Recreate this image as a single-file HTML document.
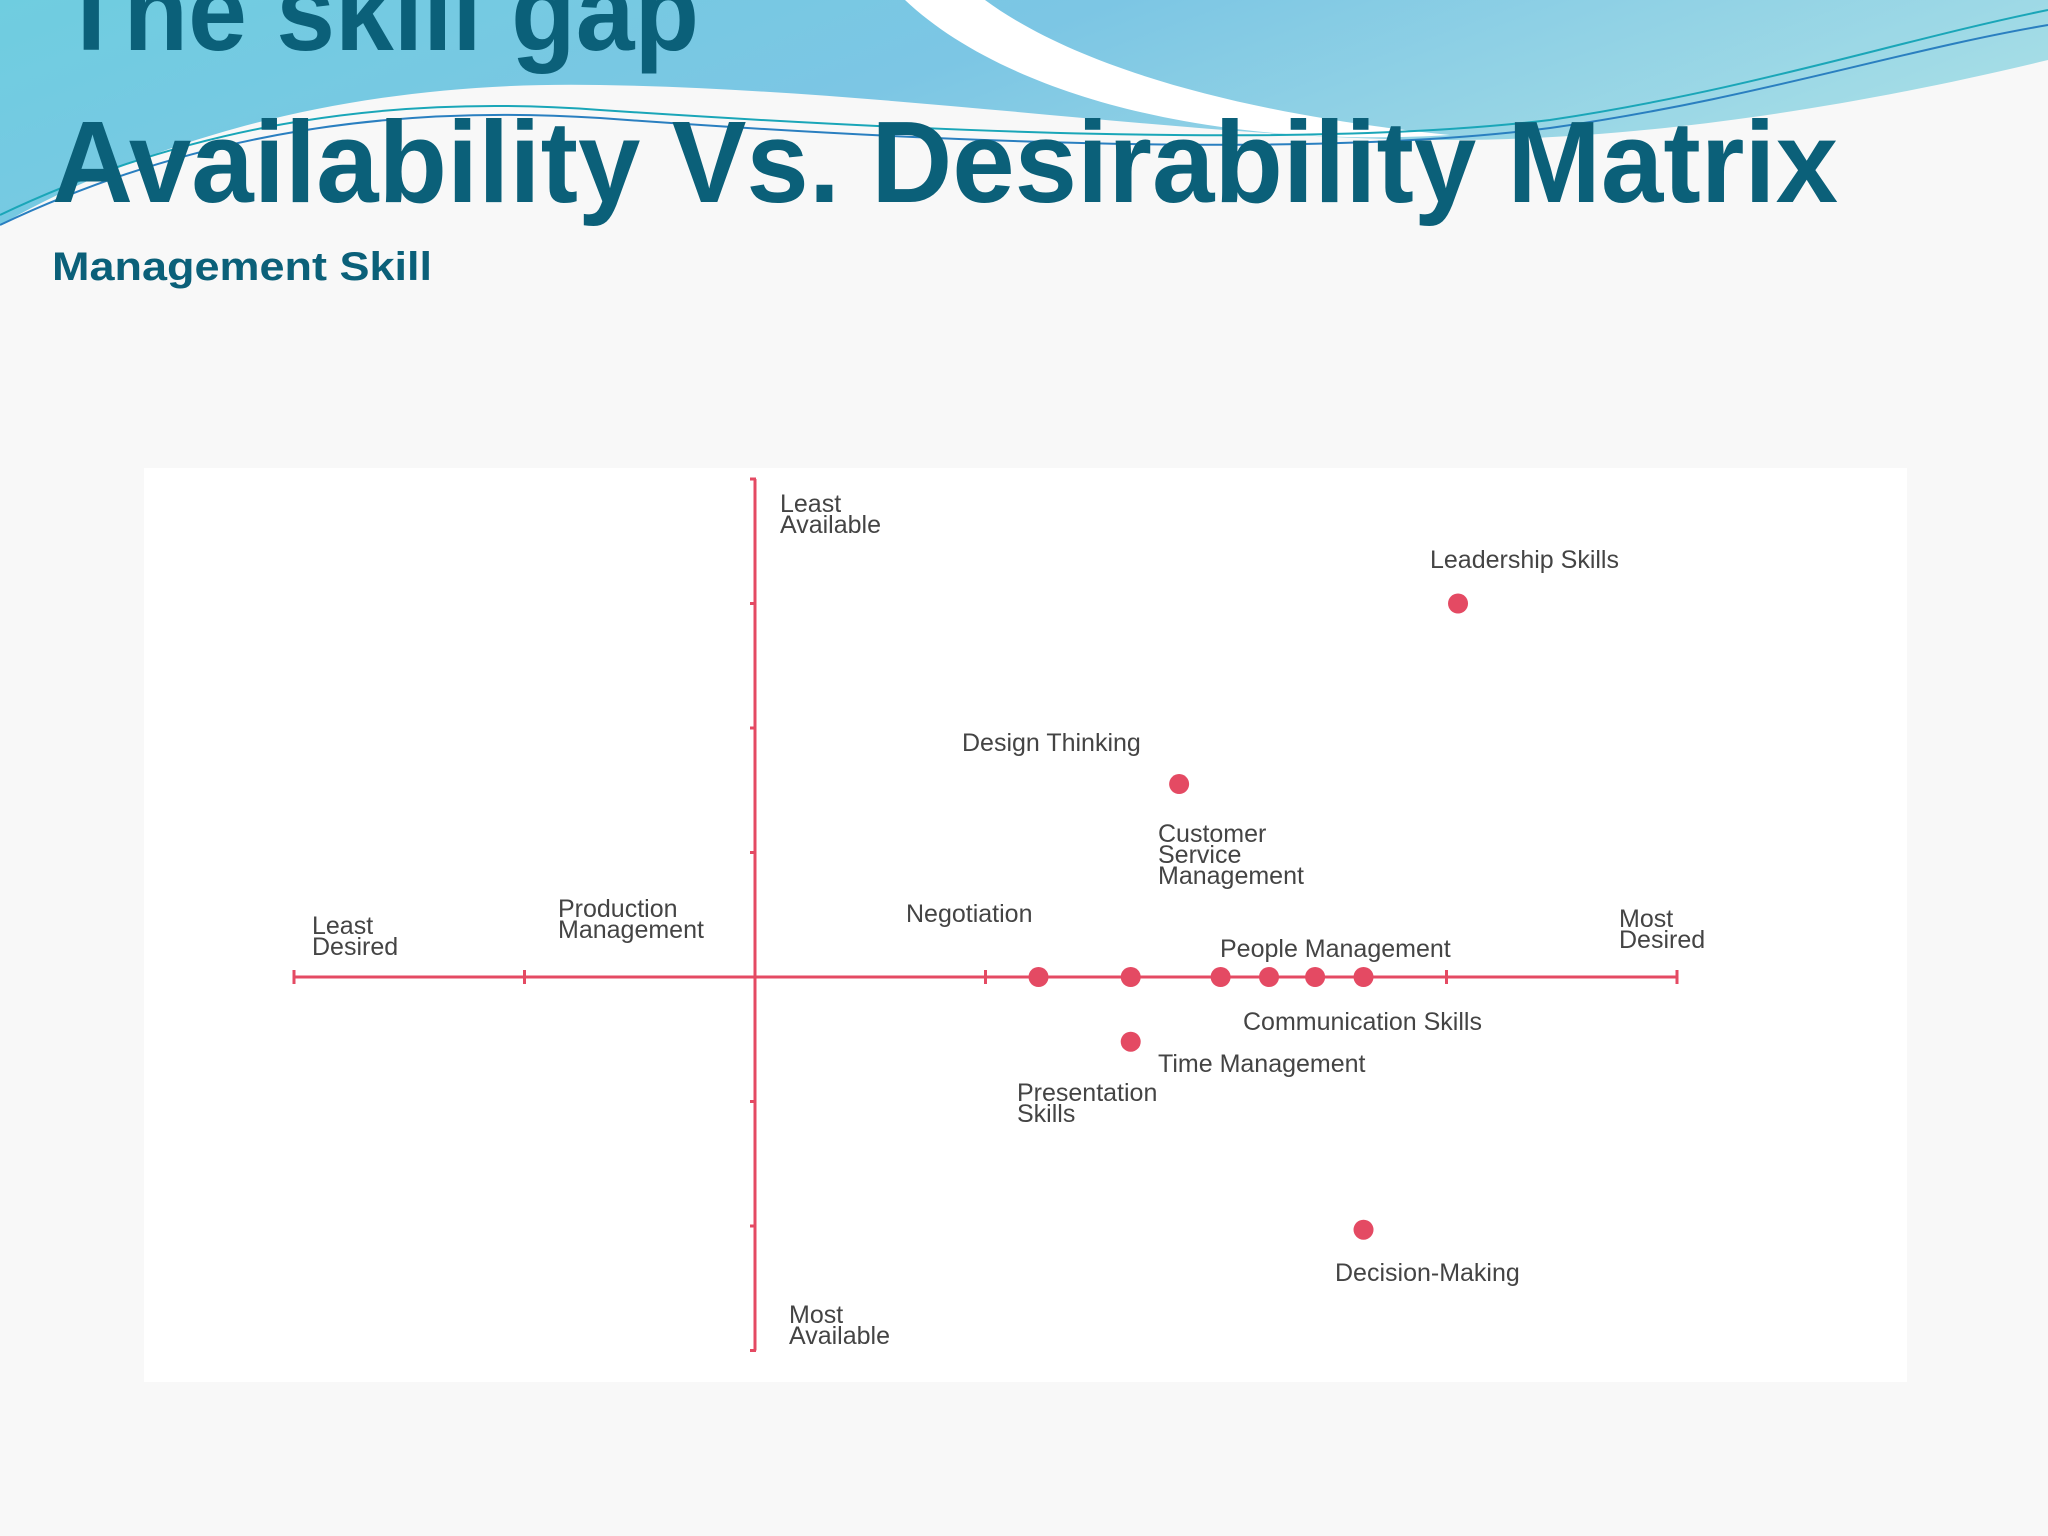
<!DOCTYPE html>
<html><head><meta charset="utf-8"><style>
html,body{margin:0;padding:0;}
body{width:2048px;height:1536px;overflow:hidden;background:#f8f8f8;font-family:"Liberation Sans",sans-serif;}
svg{display:block;}
</style></head><body>
<svg width="2048" height="1536" viewBox="0 0 2048 1536">
<defs>
<linearGradient id="bg" x1="0" y1="0" x2="1" y2="0.3">
<stop offset="0" stop-color="#6fcde0"/><stop offset="0.5" stop-color="#7cc6e4"/><stop offset="1" stop-color="#a5dde6"/>
</linearGradient>
</defs>
<rect x="0" y="0" width="2048" height="1536" fill="#f8f8f8"/>
<path d="M0,0 H2048 V60 C1800,120 1600,140 1450,140 C1200,140 900,90 600,85 C350,80 150,140 0,225 Z" fill="url(#bg)"/>
<path d="M905,0 C1000,90 1200,150 1450,135 C1250,115 1080,70 985,0 Z" fill="#ffffff"/>
<path d="M0,215 C200,120 400,95 600,110 C900,130 1300,150 1550,120 C1750,90 1900,40 2048,10" fill="none" stroke="#1aa6b8" stroke-width="2"/>
<path d="M0,225 C200,130 400,105 600,118 C900,140 1300,160 1550,128 C1750,100 1900,50 2048,25" fill="none" stroke="#2a7fc0" stroke-width="2"/>
<text x="59" y="50" font-family="Liberation Sans, sans-serif" font-weight="bold" font-size="112" fill="#0b6079" textLength="640" lengthAdjust="spacingAndGlyphs">The skill gap</text>
<text x="52" y="202" font-family="Liberation Sans, sans-serif" font-weight="bold" font-size="116" fill="#0b6079" textLength="1786" lengthAdjust="spacingAndGlyphs">Availability Vs. Desirability Matrix</text>
<text x="52" y="280" font-family="Liberation Sans, sans-serif" font-weight="bold" font-size="40" fill="#0b6079" textLength="380" lengthAdjust="spacingAndGlyphs">Management Skill</text>
<rect x="144" y="468" width="1763" height="914" fill="#ffffff"/>
<g id="chart"></g>
</svg>
<script>
const skills = ["Leadership Skills","Design Thinking","Negotiation","Presentation Skills","Customer Service Management","Communication Skills","People Management","Production Management","Time Management","Decision-Making"];
const desirability = [3.05,1.84,1.23,1.63,2.02,2.23,2.43,2.64,1.63,2.64];
const availability = [3.0,1.55,0,0,0,0,0,0,-0.52,-2.03];
const xTicks = [-2,-1,0,1,2,3,4];
const yTicks = [-3,-2,-1,0,1,2,3,4];
const ox=755, oy=977, ux=230.5, uy=124.5;
function X(v){return ox+v*ux;}
function Y(v){return oy-v*uy;}
const NS="http://www.w3.org/2000/svg";
const g=document.getElementById('chart');
const red="#e44a63";
function mk(tag,attrs){const e=document.createElementNS(NS,tag);for(const k in attrs)e.setAttribute(k,attrs[k]);g.appendChild(e);return e;}
let e=mk('line',{x1:X(-2),y1:oy,x2:X(4),y2:oy,stroke:red,'stroke-width':3});


e=mk('line',{x1:ox,y1:Y(4),x2:ox,y2:Y(-3),stroke:red,'stroke-width':3});


xTicks.forEach(t=>{const l=mk('line',{x1:X(t),y1:oy-7,x2:X(t),y2:oy+7,stroke:red,'stroke-width':3});

});
yTicks.forEach(t=>{const l=mk('line',{x1:ox-5,y1:Y(t),x2:ox+1,y2:Y(t),stroke:red,'stroke-width':3});

});
desirability.forEach((d,i)=>{const c=mk('circle',{cx:X(d),cy:Y(availability[i]),r:10,fill:red});

});
const labels=[
 [["Least","Available"],780,512,'label-least-available'],
 [["Leadership Skills"],1430,568,'label-leadership'],
 [["Design Thinking"],962,751,'label-design-thinking'],
 [["Customer","Service","Management"],1158,842,'label-customer-service'],
 [["Negotiation"],906,922,'label-negotiation'],
 [["Production","Management"],558,917,'label-production'],
 [["Least","Desired"],312,934,'label-least-desired'],
 [["Most","Desired"],1619,927,'label-most-desired'],
 [["People Management"],1220,957,'label-people-management'],
 [["Communication Skills"],1243,1030,'label-communication'],
 [["Time Management"],1158,1072,'label-time-management'],
 [["Presentation","Skills"],1017,1101,'label-presentation'],
 [["Decision-Making"],1335,1281,'label-decision-making'],
 [["Most","Available"],789,1323,'label-most-available']
];
labels.forEach(([lines,x,y,name])=>{lines.forEach((s,k)=>{const t=mk('text',{x:x,y:y+k*21,'font-size':25,fill:'#444','font-family':'Liberation Sans, sans-serif'});t.textContent=s;

});});
</script>
</body></html>
